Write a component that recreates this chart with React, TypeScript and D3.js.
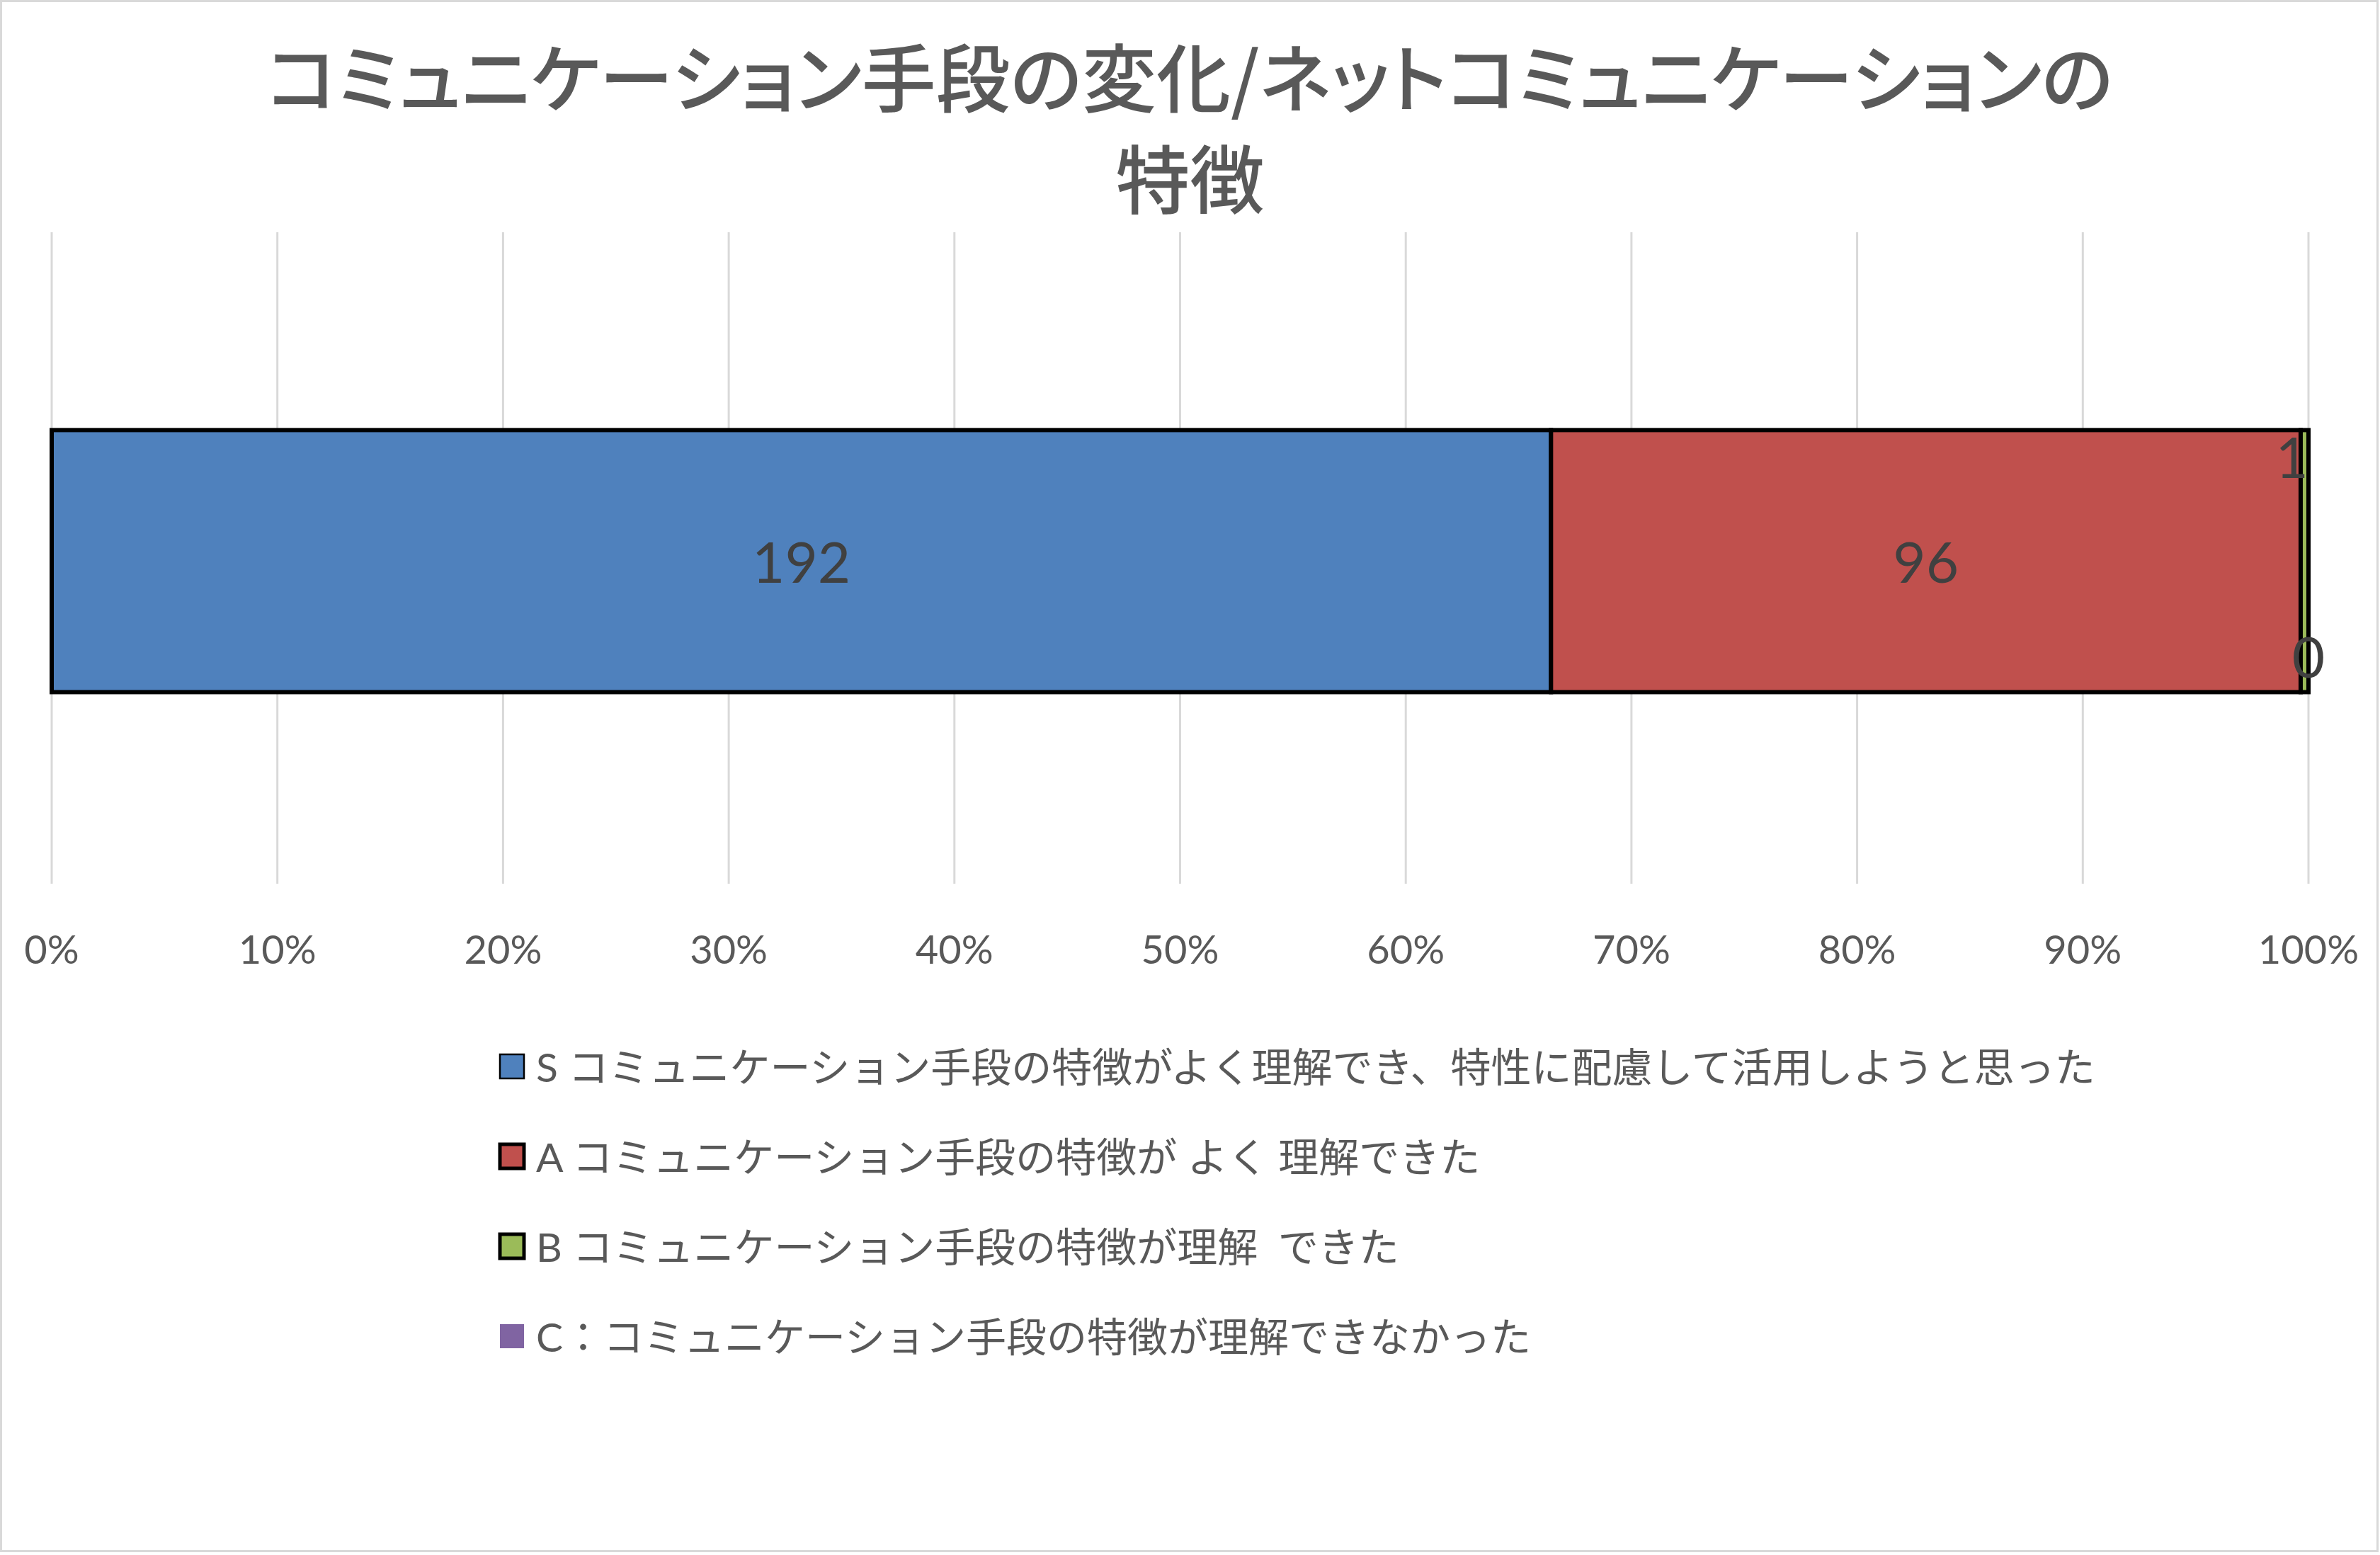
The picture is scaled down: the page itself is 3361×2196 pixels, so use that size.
import * as d3 from 'd3';

// chart data
const TITLE_LINES = ['コミュニケーション手段の変化/ネットコミュニケーションの', '特徴'];
const CATEGORIES = ['特徴'];
const SERIES_NAMES = [
  'S コミュニケーション手段の特徴がよく理解でき、特性に配慮して活用しようと思った',
  'A コミュニケーション手段の特徴が よく 理解できた',
  'B コミュニケーション手段の特徴が理解\u2002できた',
  'C：コミュニケーション手段の特徴が理解できなかった',
];
const SERIES_VALUES = [192, 96, 1, 0];
const SERIES_COLORS = ['#4f81bd', '#c0504d', '#9bbb59', '#8064a2'];
const X_TICKS = [0, 0.1, 0.2, 0.3, 0.4, 0.5, 0.6, 0.7, 0.8, 0.9, 1];

const WIDTH = 3361;
const HEIGHT = 2196;
const PLOT = { left: 73, right: 3260, top: 328, bottom: 1248 };
const FONT = "Lato, 'Noto Sans CJK JP', sans-serif";
const JP_FONT = "'Noto Sans CJK JP', sans-serif";
const TEXT = '#595959';
const LABEL = '#404040';

const LEGEND = { square: 34, x: 706, textX: 757, top: 1506, step: 127 };
const LEGEND_STROKE = [2.5, 5, 5, 0];
const BAR_STROKE = [6, 6, 6, 0];

export default function App() {
  const table = [
    Object.fromEntries([['category', CATEGORIES[0]], ...SERIES_NAMES.map((n, i) => [n, SERIES_VALUES[i]])]),
  ];
  const stacked = d3.stack<any>().keys(SERIES_NAMES).offset(d3.stackOffsetExpand)(table);

  const x = d3.scaleLinear().domain([0, 1]).range([PLOT.left, PLOT.right]);
  const y = d3.scaleBand<string>()
    .domain(CATEGORIES)
    .range([PLOT.top, PLOT.bottom])
    .paddingInner(0)
    .paddingOuter(0.743)
    .align(0.508);
  const bw = y.bandwidth();
  const fmt = d3.format('.0%');

  // where each data label sits (Excel pushed the tiny ones out of the way)
  const labelPos = (i: number, x0: number, x1: number, y0: number) => {
    if (i === 2) return { x: x1, y: y0 + bw * 0.1, anchor: 'end' };
    if (i === 3) return { x: (x0 + x1) / 2, y: y0 + bw * 0.86, anchor: 'middle' };
    return { x: (x0 + x1) / 2, y: y0 + bw / 2, anchor: 'middle' };
  };

  return (
    <svg
      width={WIDTH}
      height={HEIGHT}
      style={{ position: 'absolute', left: 0, top: 0, background: '#fff' }}
    >
      <rect x={1.5} y={1.5} width={WIDTH - 5} height={HEIGHT - 7} fill="#fff" stroke="#d9d9d9" strokeWidth={3} />

      <g fontFamily={JP_FONT} fill={TEXT} fontSize={105} fontWeight={500} textAnchor="middle">
        {TITLE_LINES.map((t, i) => (
          <text key={i} x={WIDTH / 2} y={104 + i * 143} dominantBaseline="central"
            style={{ fontFeatureSettings: '"palt"' }}>
            {t}
          </text>
        ))}
      </g>

      <g>
        {X_TICKS.map(t => (
          <line key={t} x1={x(t)} x2={x(t)} y1={PLOT.top} y2={PLOT.bottom} stroke="#d9d9d9" strokeWidth={3} />
        ))}
      </g>

      <g>
        {stacked.map((s, i) =>
          s.map((d, j) => {
            const y0 = y(d.data.category) ?? 0;
            return (
              <rect
                key={`${i}-${j}`}
                x={x(d[0])}
                y={y0}
                width={x(d[1]) - x(d[0])}
                height={bw}
                fill={SERIES_COLORS[i]}
                stroke={BAR_STROKE[i] ? '#000' : 'none'}
                strokeWidth={BAR_STROKE[i]}
              />
            );
          })
        )}
      </g>

      <g fontFamily={FONT} fontSize={80} fill={LABEL}>
        {stacked.map((s, i) =>
          s.map((d, j) => {
            const y0 = y(d.data.category) ?? 0;
            const p = labelPos(i, x(d[0]), x(d[1]), y0);
            return (
              <text key={`${i}-${j}`} x={p.x} y={p.y} textAnchor={p.anchor} dominantBaseline="central">
                {SERIES_VALUES[i]}
              </text>
            );
          })
        )}
      </g>

      <g fontFamily={FONT} fontSize={56} fill={TEXT} textAnchor="middle">
        {X_TICKS.map(t => (
          <text key={t} x={x(t)} y={PLOT.bottom + 91} dominantBaseline="central">
            {fmt(t)}
          </text>
        ))}
      </g>

      <g fontFamily={FONT} fontSize={57} fill={TEXT}>
        {SERIES_NAMES.map((name, i) => {
          const cy = LEGEND.top + i * LEGEND.step;
          return (
            <g key={name}>
              <rect
                x={LEGEND.x}
                y={cy - LEGEND.square / 2}
                width={LEGEND.square}
                height={LEGEND.square}
                fill={SERIES_COLORS[i]}
                stroke={LEGEND_STROKE[i] ? '#000' : 'none'}
                strokeWidth={LEGEND_STROKE[i]}
              />
              <text x={LEGEND.textX} y={cy} dominantBaseline="central">
                {name}
              </text>
            </g>
          );
        })}
      </g>
    </svg>
  );
}
